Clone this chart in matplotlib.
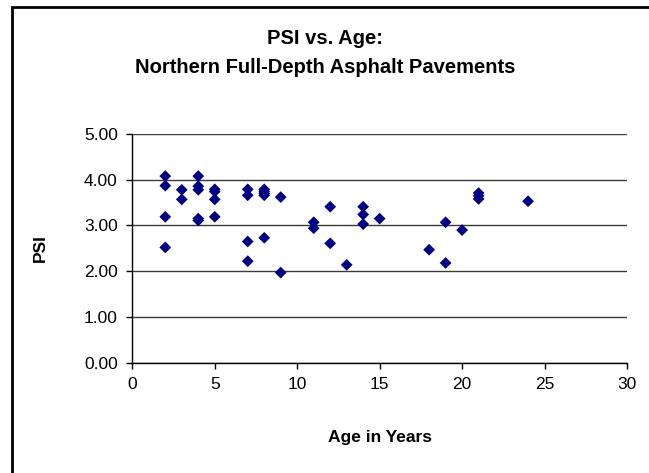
import matplotlib
matplotlib.use("Agg")
import matplotlib.pyplot as plt
from matplotlib.patches import Rectangle

plt.rcParams['font.family'] = ['Liberation Sans', 'DejaVu Sans']

age = [2, 2, 2, 2,
       3, 3,
       4, 4, 4, 4, 4,
       5, 5, 5, 5,
       7, 7, 7, 7,
       8, 8, 8, 8, 8,
       9, 9,
       11, 11,
       12, 12,
       13,
       14, 14, 14,
       15,
       18,
       19, 19,
       20,
       21, 21, 21,
       24]
psi = [4.08, 3.87, 3.19, 2.52,
       3.78, 3.57,
       4.08, 3.86, 3.78, 3.15, 3.11,
       3.79, 3.74, 3.57, 3.19,
       3.79, 3.66, 2.65, 2.22,
       3.79, 3.74, 3.70, 3.66, 2.73,
       3.62, 1.97,
       3.07, 2.94,
       3.41, 2.61,
       2.14,
       3.41, 3.24, 3.03,
       3.15,
       2.47,
       3.07, 2.18,
       2.90,
       3.71, 3.65, 3.58,
       3.53]

xticks = [0, 5, 10, 15, 20, 25, 30]
yticks = [0, 1, 2, 3, 4, 5]
ylabels = ["0.00", "1.00", "2.00", "3.00", "4.00", "5.00"]

fig = plt.figure(figsize=(6.49, 4.73), dpi=100)
fig.patch.set_facecolor('white')
# outer chart frame (right/bottom edges fall outside the image)
fig.patches.append(Rectangle((11.8/649, -0.1), 1.2, 1.1 - 7.0/473,
                             transform=fig.transFigure, fill=False,
                             edgecolor='black', linewidth=2.0))

ax = fig.add_axes([132.3/649, 1 - 362.7/473, (627 - 132.3)/649, (362.7 - 134)/473])
ax.set_xlim(0, 30)
ax.set_ylim(0, 5)
ax.set_xticks(xticks)
ax.set_yticks(yticks)
ax.set_yticklabels(ylabels)
ax.grid(axis='y', color='#3a3a3a', linewidth=1.0)
ax.set_axisbelow(True)
for s in ['top', 'right']:
    ax.spines[s].set_visible(False)
for s in ['left', 'bottom']:
    ax.spines[s].set_color('black')
    ax.spines[s].set_linewidth(1.0)
ax.tick_params(direction='out', length=4.5, width=1, labelsize=12.5, pad=6)

ax.scatter(age, psi, marker='D', s=36, color='#000080', edgecolors='none', zorder=3)

ax.set_xlabel('Age in Years', fontsize=12.5, fontweight='bold', labelpad=27)
ax.set_ylabel('PSI', fontsize=12.5, fontweight='bold', labelpad=26)

fig.text(325/649, 1 - 38/473, 'PSI vs. Age:', ha='center', va='center',
         fontsize=14.5, fontweight='bold')
fig.text(325/649, 1 - 67/473, 'Northern Full-Depth Asphalt Pavements', ha='center',
         va='center', fontsize=14.5, fontweight='bold')

fig.savefig('out.png', dpi=100, facecolor='white')
